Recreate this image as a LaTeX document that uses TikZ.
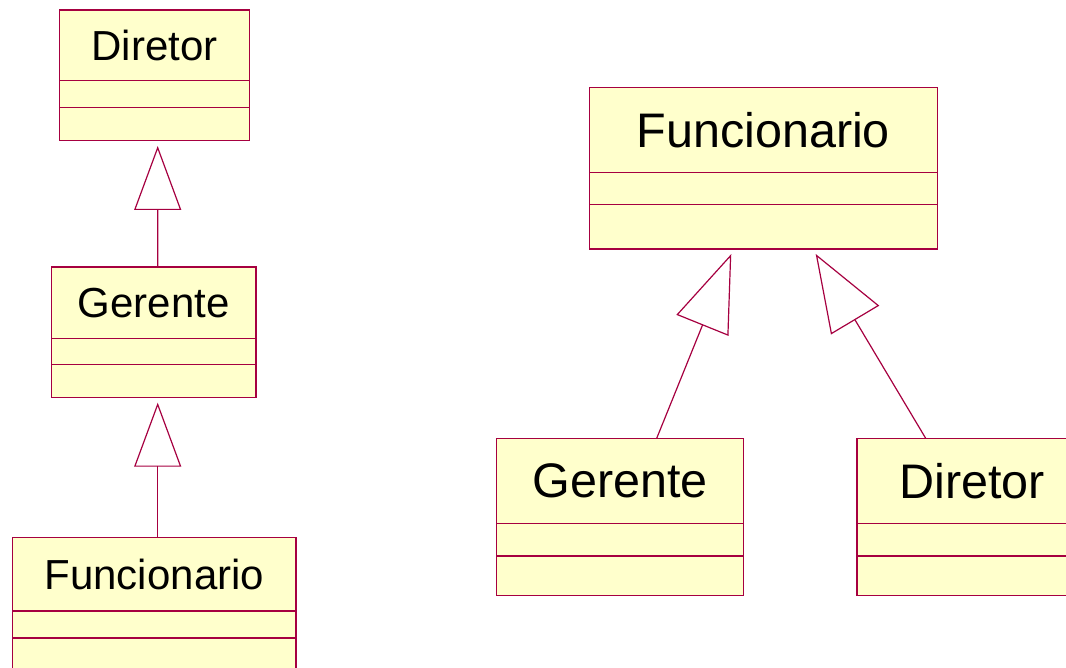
\documentclass[tikz,border=0pt]{standalone}
\usepackage{fontspec}
\setmainfont{Liberation Sans}
\usetikzlibrary{arrows.meta,positioning}
\definecolor{umlline}{RGB}{166,0,64}
\definecolor{umlfill}{RGB}{255,255,204}

\begin{document}
\begin{tikzpicture}[x=1pt,y=-1pt,
  cls/.style={draw=umlline,fill=umlfill,line width=1.2pt,inner sep=0pt,outer sep=0pt},
  lft/.style={font=\fontsize{42}{50}\selectfont},
  rgt/.style={font=\fontsize{48.5}{58}\selectfont},
  gen/.style 2 args={draw=umlline,line width=1.2pt,-{Triangle[open,length=#1,width=#2]}}]
  \clip (0,0) rectangle (1066,668);
  % left: Funcionario -> Gerente -> Diretor
  \node[cls,lft,anchor=north,minimum width=190.4pt,minimum height=70.3pt] (dirL) at (154.5,10) {Diretor};
  \node[cls,below=0pt of dirL,minimum width=190.4pt,minimum height=27pt] (dirLa) {};
  \node[cls,below=0pt of dirLa,minimum width=190.4pt,minimum height=33pt] (dirLo) {};
  \node[cls,lft,anchor=north,minimum width=204.3pt,minimum height=71.3pt] (gerL) at (153.85,267) {Gerente};
  \node[cls,below=0pt of gerL,minimum width=204.3pt,minimum height=26.4pt] (gerLa) {};
  \node[cls,below=0pt of gerLa,minimum width=204.3pt,minimum height=33pt] (gerLo) {};
  \node[cls,lft,anchor=north,minimum width=283.3pt,minimum height=73.3pt] (funL) at (154.35,537.7) {Funcionario};
  \node[cls,below=0pt of funL,minimum width=283.3pt,minimum height=27pt] (funLa) {};
  \node[cls,below=0pt of funLa,minimum width=283.3pt,minimum height=33pt] (funLo) {};
  \draw[gen={64pt}{47pt},shorten >=5.7pt] ([xshift=3.85pt]gerL.north) -- ([xshift=3.2pt]dirLo.south);
  \draw[gen={64pt}{47pt},shorten >=5pt] ([xshift=3.35pt]funL.north) -- ([xshift=3.85pt]gerLo.south);
  % right: Gerente and Diretor -> Funcionario
  \node[cls,rgt,anchor=north,minimum width=348pt,minimum height=85pt] (funR) at (763.3,87.3) {Funcionario};
  \node[cls,below=0pt of funR,minimum width=348pt,minimum height=32pt] (funRa) {};
  \node[cls,below=0pt of funRa,minimum width=348pt,minimum height=44.7pt] (funRo) {};
  \node[cls,rgt,anchor=north,minimum width=247pt,minimum height=85pt] (gerR) at (620.2,438.3) {Gerente};
  \node[cls,below=0pt of gerR,minimum width=247pt,minimum height=32.7pt] (gerRa) {};
  \node[cls,below=0pt of gerRa,minimum width=247pt,minimum height=39.7pt] (gerRo) {};
  \node[cls,rgt,anchor=north,minimum width=230pt,minimum height=85pt] (dirR) at (972,438.3) {Diretor};
  \node[cls,below=0pt of dirR,minimum width=230pt,minimum height=32.7pt] (dirRa) {};
  \node[cls,below=0pt of dirRa,minimum width=230pt,minimum height=39.7pt] (dirRo) {};
  \draw[gen={77pt}{56pt},shorten >=5.4pt] ([xshift=36.5pt]gerR.north) -- ([xshift=-30pt]funRo.south);
  \draw[gen={77pt}{56pt},shorten >=5.8pt] ([xshift=-46.3pt]dirR.north) -- ([xshift=49.4pt]funRo.south);
\end{tikzpicture}
\end{document}
